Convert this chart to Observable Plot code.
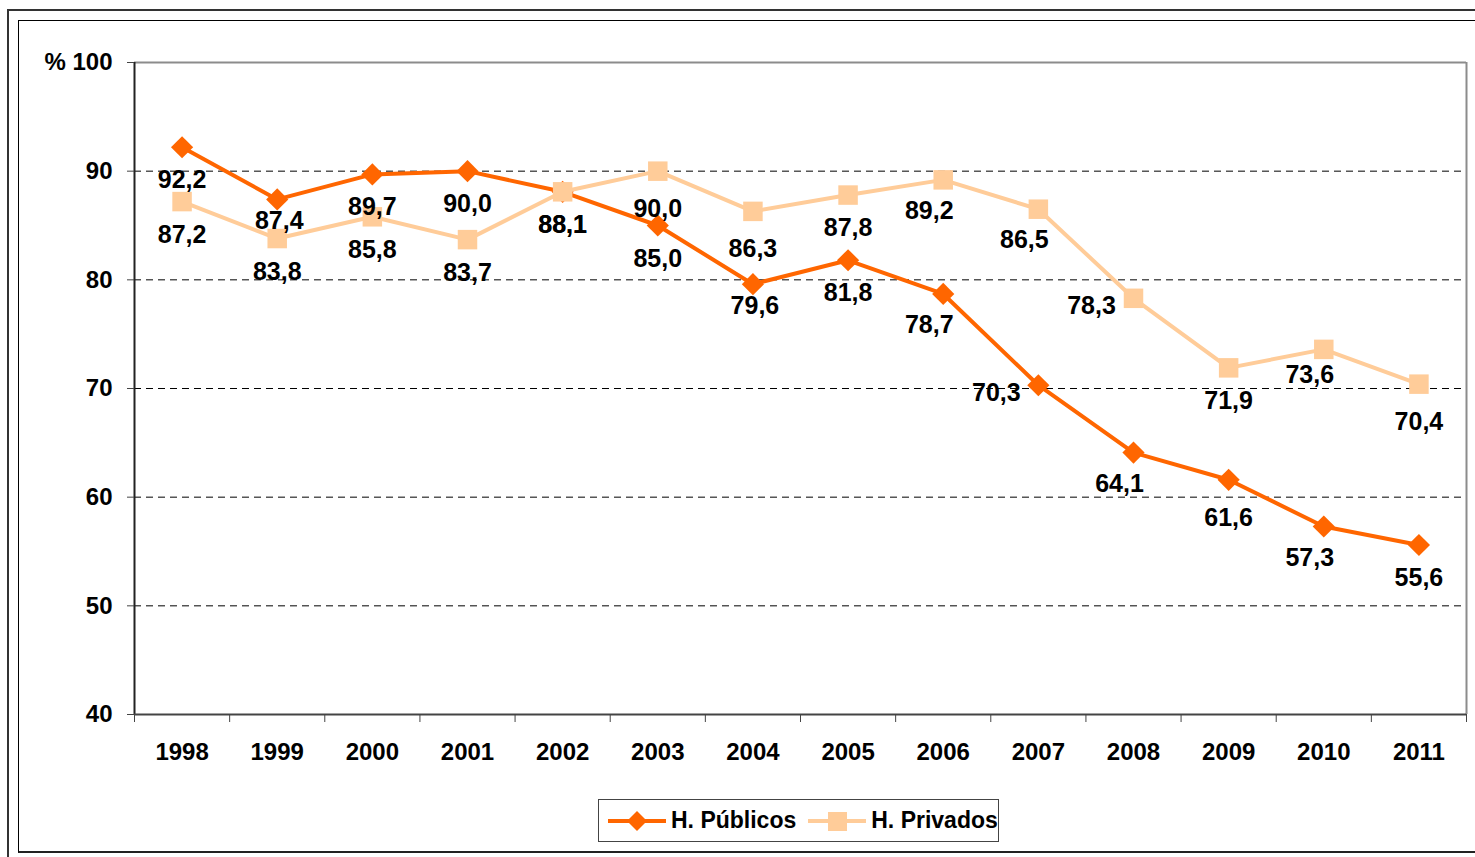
<!DOCTYPE html>
<html>
<head>
<meta charset="utf-8">
<script src="https://cdn.jsdelivr.net/npm/d3@7"></script>
<script src="https://cdn.jsdelivr.net/npm/@observablehq/plot@0.6"></script>
<style>
  html, body { margin: 0; padding: 0; background: #fff; }
  body { width: 1475px; height: 857px; position: relative; overflow: hidden;
         font-family: "Liberation Sans", Arial, sans-serif; }
  #outer { position: absolute; left: 7px; top: 9px; width: 1600px; height: 1000px;
           border-top: 2px solid #333; border-left: 2px solid #333; }
  #inner { position: absolute; left: 18px; top: 20px; width: 1600px; height: 830px;
           border-top: 1px solid #000; border-left: 1px solid #000; border-bottom: 2px solid #222; }
  #chart { position: absolute; left: 0; top: 0; }
  #legend { position: absolute; left: 598px; top: 799px; width: 399px; height: 41px;
            border: 1px solid #444; background: #fff; display: flex; align-items: center;
            font-weight: bold; font-size: 23px; color: #000; }
  .item { display: flex; align-items: center; }
</style>
</head>
<body>
<div id="outer"></div>
<div id="inner"></div>
<div id="chart"></div>
<div id="legend">
  <div class="item" style="margin-left:9px">
    <svg width="60" height="24"><line x1="0" y1="12" x2="58" y2="12" stroke="#FF6600" stroke-width="4"/><path d="M29,2 L39,12 L29,22 L19,12 Z" fill="#FF6600"/></svg>
    <span style="margin-left:3px">H. Públicos</span>
  </div>
  <div class="item" style="margin-left:12px">
    <svg width="60" height="24"><line x1="0" y1="12" x2="58" y2="12" stroke="#FFCC99" stroke-width="4"/><rect x="20" y="3" width="19" height="19" fill="#FFCC99"/></svg>
    <span style="margin-left:3px">H. Privados</span>
  </div>
</div>
<script>
const years = [1998,1999,2000,2001,2002,2003,2004,2005,2006,2007,2008,2009,2010,2011];
const publicos = [92.2,87.4,89.7,90.0,88.1,85.0,79.6,81.8,78.7,70.3,64.1,61.6,57.3,55.6];
const privados = [87.2,83.8,85.8,83.7,88.1,90.0,86.3,87.8,89.2,86.5,78.3,71.9,73.6,70.4];
const yTicks = [40,50,60,70,80,90,100];
const gridLines = [50,60,70,80,90];
// label placement relative to point (style, not data)
const publicosLabelPlace = ["below","belowNear","below","below","below","below","belowNear","below","belowLeft","left","belowLeft","belowFar","belowLeft","below"];
const privadosLabelPlace = ["below","below","below","below","below","belowFar","belowFar","below","belowLeft","belowLeft","left","below","belowNearLeft","belowFar"];

const COL_PUB = "#FF6600", COL_PRIV = "#FFCC99";
const pub = years.map((y,i) => ({year:y, value:publicos[i], place:publicosLabelPlace[i]}));
const priv = years.map((y,i) => ({year:y, value:privados[i], place:privadosLabelPlace[i]}));
const fmt = d => d.value.toFixed(1).replace(".", ",");
const txtStyle = {fontSize: 25, fontWeight: "bold", fill: "#000", text: fmt};
const placements = {
  below: {dx: 0, dy: 33},
  belowNear: {dx: 2, dy: 22},
  belowFar: {dx: 0, dy: 38},
  belowLeft: {dx: -14, dy: 31},
  belowNearLeft: {dx: -14, dy: 26},
  left: {dx: -42, dy: 8}
};

function labels(data) {
  return Object.entries(placements).map(([k, o]) =>
    Plot.text(data.filter(d => d.place === k), {x: "year", y: "value", ...txtStyle, dx: o.dx, dy: o.dy}));
}

const chart = Plot.plot({
  width: 1475,
  height: 780,
  marginLeft: 134,
  marginRight: 9,
  marginTop: 62,
  marginBottom: 66,
  style: {fontFamily: '"Liberation Sans", Arial, sans-serif', background: "transparent", overflow: "visible"},
  x: {domain: [1997.5, 2011.5]},
  y: {domain: [40, 100]},
  marks: [
    Plot.ruleY(gridLines, {stroke: "#000", strokeWidth: 1, strokeDasharray: "7,5"}),
    Plot.ruleY([100], {stroke: "#8c8c8c", strokeWidth: 2}),
    Plot.ruleX([2011.5], {stroke: "#8c8c8c", strokeWidth: 2}),
    Plot.ruleX([1997.5], {stroke: "#222", strokeWidth: 2}),
    Plot.ruleY([40], {stroke: "#444", strokeWidth: 2}),
    Plot.axisY({ticks: yTicks, tickSize: 7, tickPadding: 15, label: null, fontSize: 24, fontWeight: "bold",
                stroke: "#444", tickFormat: d => d === 100 ? "% 100" : String(d)}),
    Plot.axisX({ticks: years, tickSize: 0, tickPadding: 28, label: null, fontSize: 24, fontWeight: "bold",
                tickFormat: d => String(d)}),
    Plot.axisX({ticks: d3.range(1997.5, 2012, 1), tickSize: 8, label: null, stroke: "#444", tickFormat: () => ""}),
    Plot.line(pub, {x: "year", y: "value", stroke: COL_PUB, strokeWidth: 4}),
    Plot.dot(pub, {x: "year", y: "value", symbol: "diamond2", r: 10, fill: COL_PUB, stroke: "none"}),
    Plot.line(priv, {x: "year", y: "value", stroke: COL_PRIV, strokeWidth: 4}),
    Plot.dot(priv, {x: "year", y: "value", symbol: "square", r: 11, fill: COL_PRIV, stroke: "none"}),
    ...labels(pub),
    ...labels(priv)
  ]
});
document.getElementById("chart").appendChild(chart);
</script>
</body>
</html>
